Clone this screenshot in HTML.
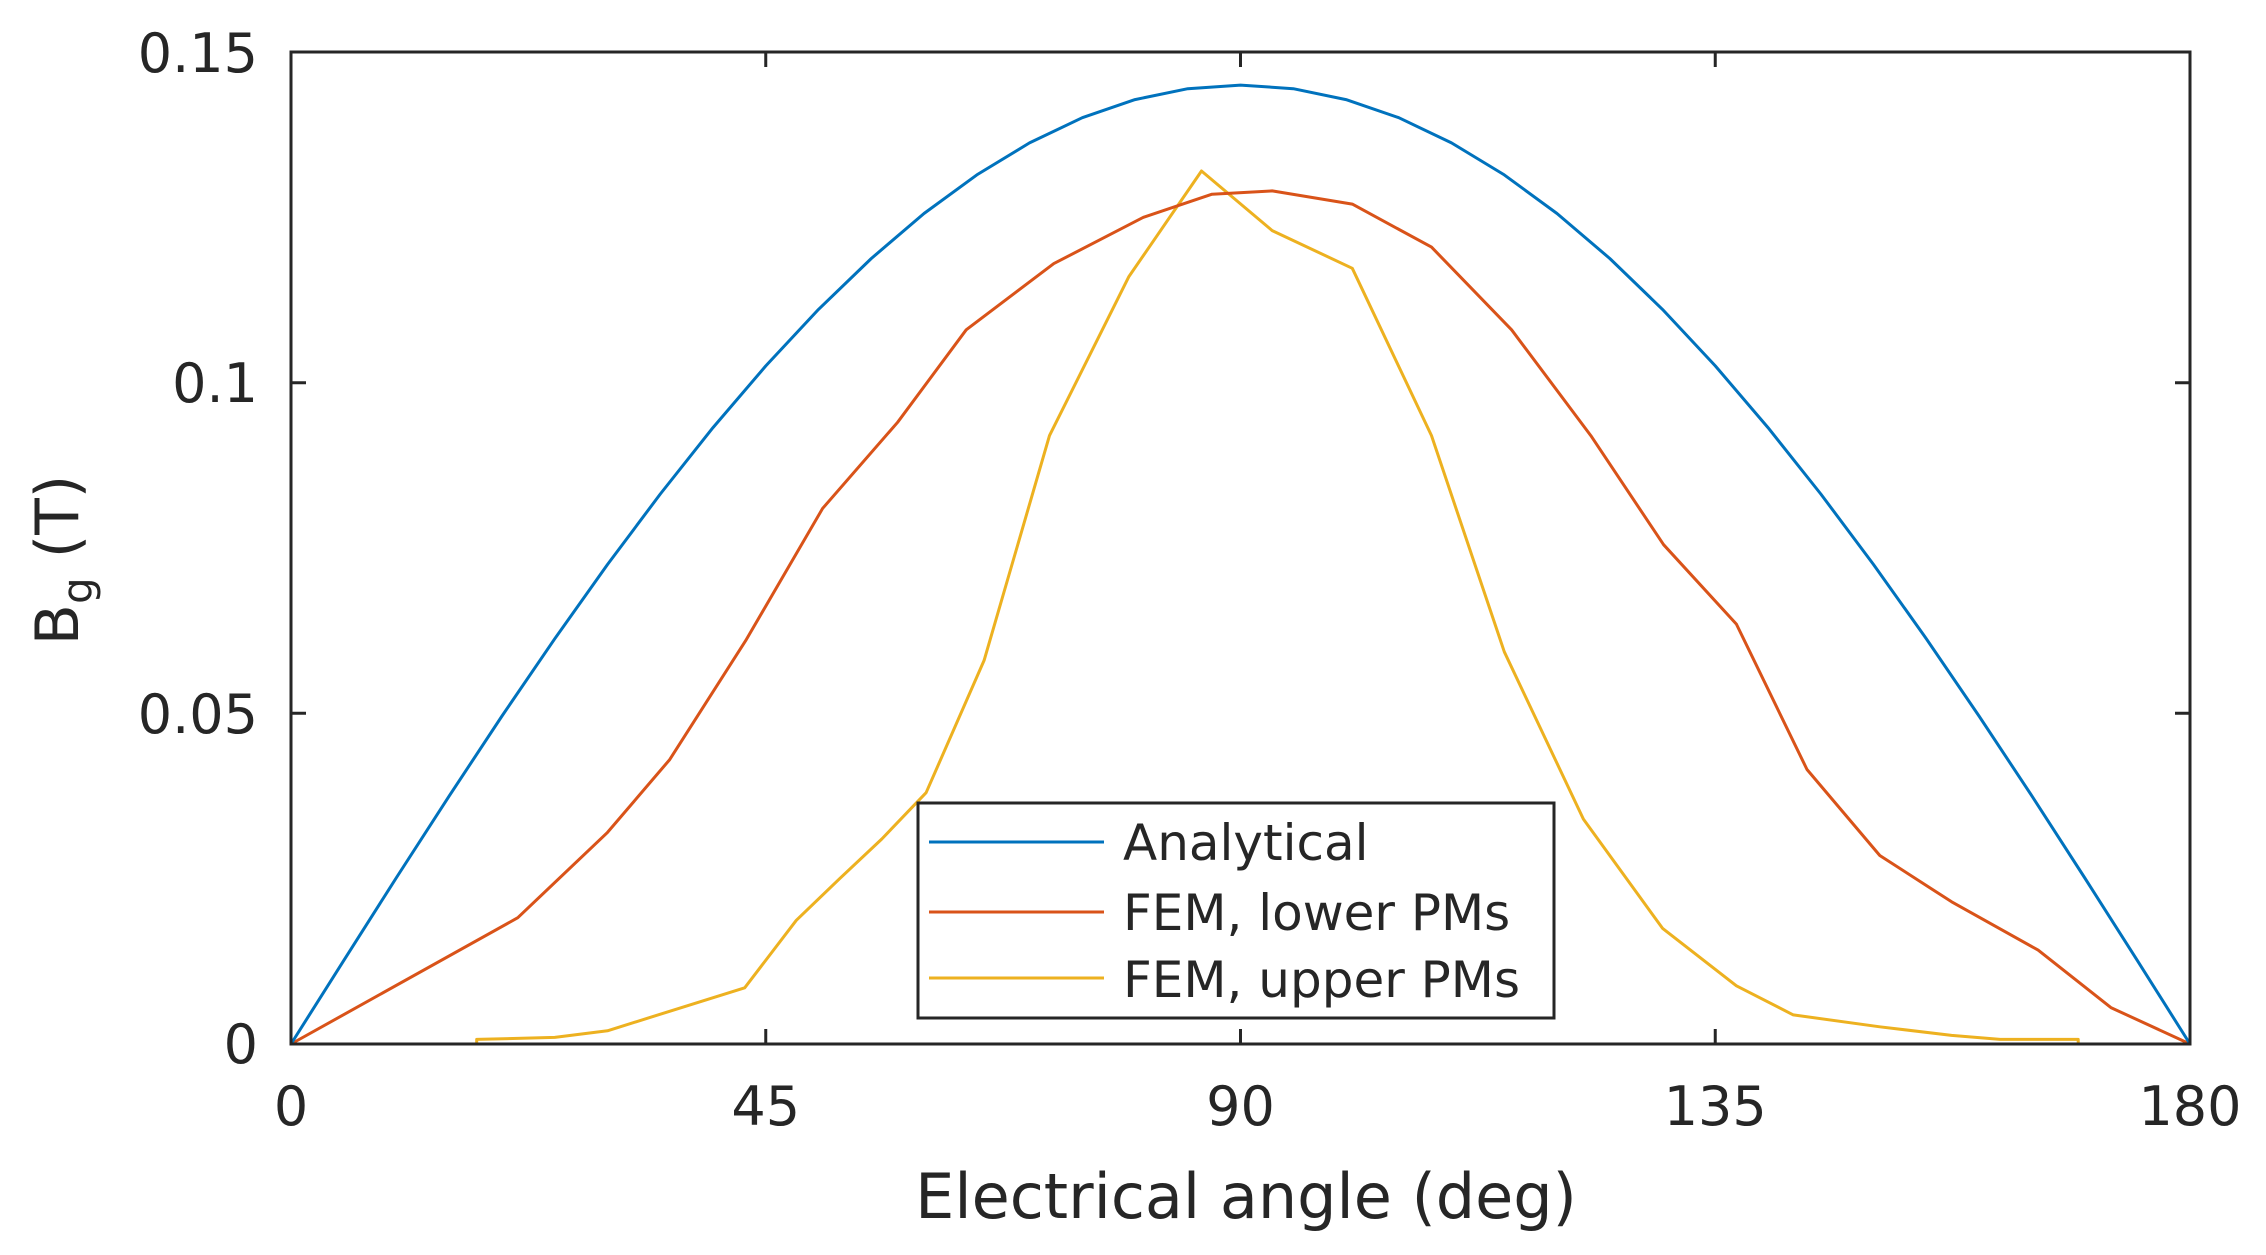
<!DOCTYPE html>
<html><head><meta charset="utf-8"><style>
html,body{margin:0;padding:0;background:#fff;}
svg{display:block;}
text{font-family:"DejaVu Sans","Liberation Sans",sans-serif;fill:#262626;}
</style></head><body>
<svg id="s" width="2266" height="1255" viewBox="0 0 2266 1255" xmlns="http://www.w3.org/2000/svg">
<rect width="2266" height="1255" fill="#fff"/>
<g id="series" fill="none" stroke-width="3" stroke-linejoin="round"></g>
<g stroke="#262626" stroke-width="3" fill="none">
<rect x="291" y="52" width="1899" height="992"/>
<path d="M291,1044v-15 M765.75,1044v-15 M1240.5,1044v-15 M1715.25,1044v-15 M2190,1044v-15 M291,52v15 M765.75,52v15 M1240.5,52v15 M1715.25,52v15 M2190,52v15 M291,713.3h15 M291,382.7h15 M2190,713.3h-15 M2190,382.7h-15"/>
</g>
<g font-size="54" text-anchor="middle">
<text x="291" y="1125">0</text>
<text x="765.75" y="1125">45</text>
<text x="1240.5" y="1125">90</text>
<text x="1715.25" y="1125">135</text>
<text x="2190" y="1125">180</text>
</g>
<g font-size="54" text-anchor="end">
<text x="258" y="1063">0</text>
<text x="258" y="733">0.05</text>
<text x="258" y="402">0.1</text>
<text x="258" y="72">0.15</text>
</g>
<text x="1246" y="1218" font-size="62" text-anchor="middle">Electrical angle (deg)</text>
<text transform="translate(78,560) rotate(-90)" font-size="60" text-anchor="middle">B<tspan font-size="42" dy="14">g</tspan><tspan dy="-14"> (T)</tspan></text>
<rect x="918" y="803" width="636" height="215" fill="#fff" stroke="#262626" stroke-width="3"/>
<line x1="929" y1="842" x2="1104" y2="842" stroke="#0072BD" stroke-width="3"/>
<line x1="929" y1="912" x2="1104" y2="912" stroke="#D95319" stroke-width="3"/>
<line x1="929" y1="978" x2="1104" y2="978" stroke="#EDB120" stroke-width="3"/>
<g font-size="50">
<text x="1123" y="860">Analytical</text>
<text x="1123" y="930">FEM, lower PMs</text>
<text x="1123" y="997">FEM, upper PMs</text>
</g>
</svg>
<script>
function X(d){return 291+d*10.55;}
function Y(v){return 1044-v*6613.3;}
function pl(pts,c){var p=document.createElementNS("http://www.w3.org/2000/svg","polyline");
p.setAttribute("points",pts.map(function(a){return X(a[0]).toFixed(1)+","+Y(a[1]).toFixed(1)}).join(" "));
p.setAttribute("stroke",c);document.getElementById("series").appendChild(p);}
var a=[];for(var d=0;d<=180;d+=5)a.push([d,0.145*Math.sin(d*Math.PI/180)]);
var r=[[0,0],[21.5,0.0191],[30,0.032],[35.9,0.043],[43.1,0.061],[50.4,0.081],[57.5,0.094],[64,0.108],[72.3,0.118],[80.8,0.125],[87.3,0.1285],[93,0.129],[100.6,0.127],[108.1,0.1205],[115.7,0.108],[123.2,0.092],[130.1,0.0755],[137,0.0635],[143.7,0.0415],[150.6,0.0285],[157.4,0.0215],[165.6,0.0142],[172.5,0.0055],[180,0]];
var y=[[0,0],[17.6,0],[17.6,0.0007],[25,0.001],[30,0.002],[36,0.005],[43,0.0085],[47.9,0.0187],[52,0.025],[56,0.031],[60.2,0.038],[65.7,0.058],[71.9,0.092],[79.4,0.116],[86.3,0.132],[93,0.123],[100.6,0.1173],[108.1,0.092],[115,0.0593],[122.5,0.034],[130,0.0175],[137,0.0088],[142.4,0.0044],[150.6,0.0026],[157.4,0.0013],[162,0.0007],[169.4,0.0007],[169.4,0],[180,0]];
pl(y,"#EDB120");pl(r,"#D95319");pl(a,"#0072BD");
</script>
</body></html>
